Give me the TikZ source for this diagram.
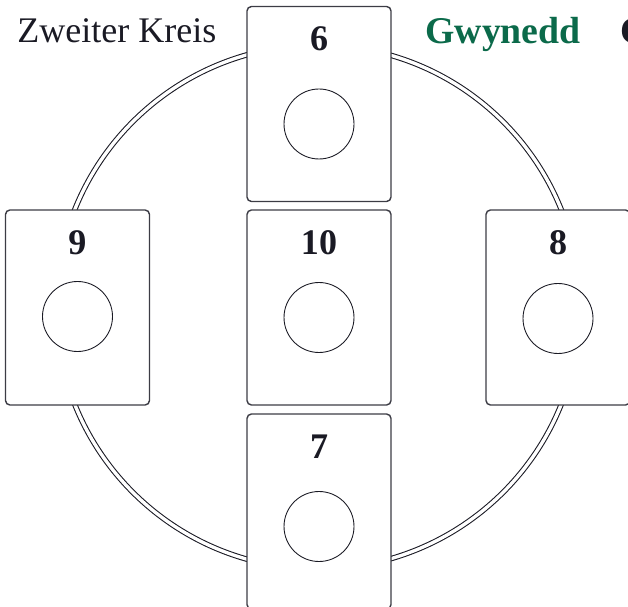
\documentclass[tikz,border=0pt]{standalone}
\usepackage{fontspec}
\setmainfont{Liberation Serif}
\usetikzlibrary{calc}

\definecolor{ink}{HTML}{1A1A24}
\definecolor{gwgreen}{HTML}{0B6A4A}

\tikzset{
  card/.style={draw=ink!85,line width=0.8pt,rounded corners=2.5pt,fill=white,
    minimum width=2.88cm,minimum height=3.9cm,inner sep=0pt},
  hole/.style={circle,draw=ink,line width=0.5pt,minimum size=1.4cm,inner sep=0pt},
  cardnum/.style={font=\fontsize{20.5}{24}\selectfont\bfseries,text=ink},
  ring/.style={draw=ink,line width=0.6pt,double=white,double distance=1.9pt},
  heading/.style={font=\fontsize{20.5}{24}\selectfont,anchor=base west,inner sep=0pt}
}

% name, centre, number, hole offset
\newcommand{\card}[4]{
  \node [card] (#1) at (#2) {};
  \node [cardnum] (#1n) at ($(#1.north)+(0,33)$) {#3};
  \node [hole] (#1h) at ($(#1.center)+(0,#4)$) {};
}

\begin{document}
\begin{tikzpicture}[x=0.02cm,y=-0.02cm]
    \clip (0,0) rectangle (628,607);
    \useasboundingbox (0,0) rectangle (628,607);

    \coordinate (ctr) at (318,307);
    \coordinate (c6) at (319,104);
    \coordinate (c10) at (319,307.5);
    \coordinate (c7) at (319,511.5);
    \coordinate (c9) at (77.5,307.5);
    \coordinate (c8) at (558,307.5);

    \draw [ring] (ctr) circle [radius=5.24cm];

    \card{six}{c6}{6}{20}
    \card{ten}{c10}{10}{10}
    \card{seven}{c7}{7}{15}
    \card{nine}{c9}{9}{9}
    \card{eight}{c8}{8}{11}

    \node [heading,text=ink] (title) at (17,43) {Zweiter Kreis};
    \node [heading,text=gwgreen,font=\fontsize{21.5}{24}\selectfont\bfseries]
      (gwynedd) at (425,44) {Gwynedd};
    \node [heading,text=ink,font=\fontsize{21.5}{24}\selectfont\bfseries]
      (next) at (620,44) {C};
  \end{tikzpicture}
\end{document}
